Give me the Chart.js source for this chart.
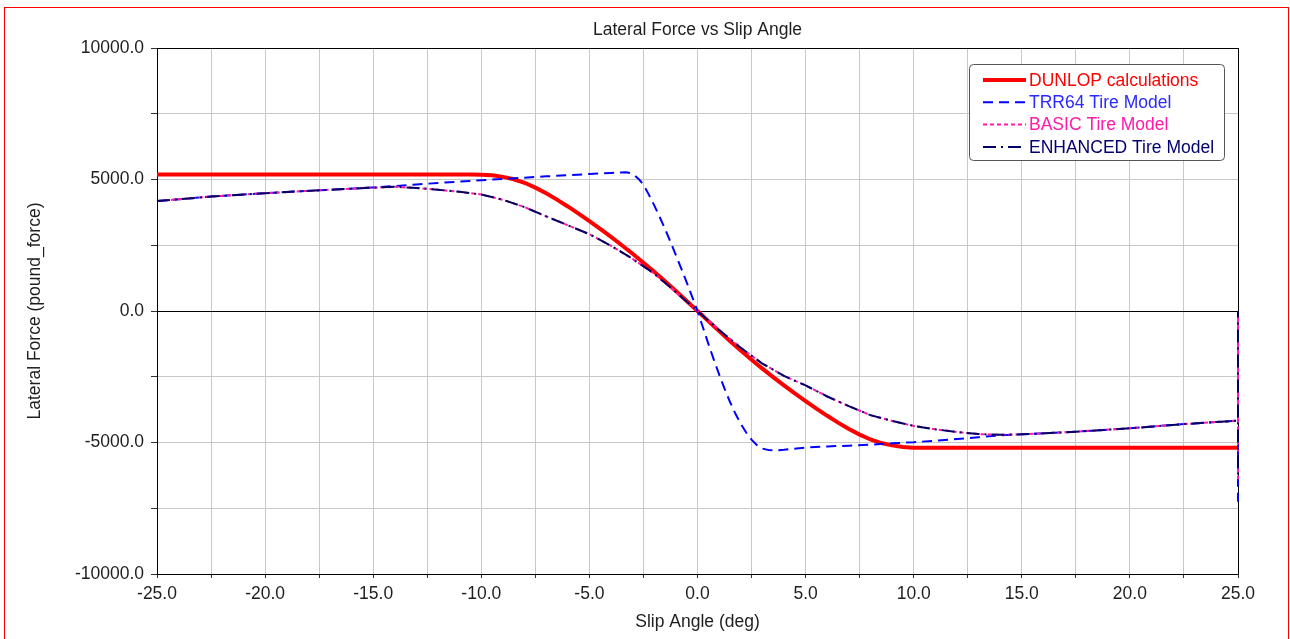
<!DOCTYPE html>
<html>
<head>
<meta charset="utf-8">
<title>Lateral Force vs Slip Angle</title>
<script src="https://cdn.jsdelivr.net/npm/chart.js@4.4.1/dist/chart.umd.min.js"></script>
<style>
    html, body { margin: 0; padding: 0; background: #fff; }
    #wrap { position: relative; width: 1290px; height: 639px; overflow: hidden; background: #fff; }
    #frame { position: absolute; left: 4px; top: 7px; width: 1283px; height: 700px; border: 1px solid #ff0000; pointer-events: none; }
</style>
</head>
<body>
<div id="wrap">
    <canvas id="lateralChart"></canvas>
    <div id="frame"></div>
</div>
<script>
// Slip angle (deg) / lateral force (pound_force)
var dunlopAngle = [-25, -10.5, -10, -9.5, -9, -8.5, -8, -7.5, -7, -6.5, -6, -5.5, -5, -4.5, -4, -3.5, -3, -2.5, -2, -1.5, -1, -0.5,
    0, 0.5, 1, 1.5, 2, 2.5, 3, 3.5, 4, 4.5, 5, 5.5, 6, 6.5, 7, 7.5, 8, 8.5, 9, 9.5, 10, 10.5, 25];
var dunlopForce = [5190, 5190, 5185, 5160, 5100, 5010, 4875, 4690, 4475, 4235, 3975, 3700, 3415, 3120, 2815, 2500, 2175, 1835, 1490, 1130, 760, 380,
    0, -385, -765, -1140, -1500, -1850, -2190, -2515, -2830, -3135, -3425, -3710, -3985, -4245, -4485, -4700, -4885, -5020, -5110, -5170, -5195, -5200, -5200];

var trrAngle = [-25, -22.5, -20, -17.5, -15, -14, -13, -12, -11, -10, -9, -8, -7, -6, -5, -4, -3.6, -3.3, -3.1, -2.9, -2.7, -2.5, -2.25, -2,
    -1.75, -1.5, -1.25, -1, -0.75, -0.5, -0.25, 0, 0.25, 0.5, 0.75, 1, 1.25, 1.5, 1.75, 2, 2.25, 2.5, 2.75, 3, 3.3, 3.6, 4,
    5, 6, 7, 8, 9, 10, 11, 12, 13, 14, 15, 17.5, 20, 22.5, 25, 25, 25];
var trrForce = [4180, 4350, 4480, 4590, 4700, 4750, 4810, 4870, 4920, 4970, 5020, 5070, 5120, 5160, 5210, 5250, 5270, 5275, 5240, 5150, 5000, 4800, 4425, 4015,
    3575, 3115, 2625, 2125, 1615, 1090, 550, 0, -620, -1240, -1840, -2410, -2950, -3450, -3900, -4290, -4620, -4890, -5100, -5230, -5290, -5300, -5275,
    -5190, -5150, -5120, -5080, -5030, -4990, -4930, -4870, -4800, -4730, -4690, -4590, -4460, -4300, -4170, 0, -7250];

var basicAngle = [-25, -22.5, -20, -17.5, -15, -14, -13, -12, -11, -10, -9, -8, -7, -6, -5, -4, -3, -2, -1,
    0, 1, 2, 3, 4, 5, 6, 7, 8, 9, 10, 11, 12, 13, 14, 15, 17.5, 20, 22.5, 25, 25, 25];
var basicForce = [4180, 4350, 4480, 4590, 4690, 4720, 4680, 4610, 4530, 4430, 4230, 3950, 3600, 3260, 2920, 2480, 1980, 1420, 720,
    0, -720, -1400, -2000, -2470, -2830, -3250, -3620, -3960, -4180, -4370, -4500, -4600, -4680, -4710, -4690, -4590, -4460, -4300, -4170, 0, -6400];

var enhancedAngle = [-25, -22.5, -20, -17.5, -15, -14, -13, -12, -11, -10, -9, -8, -7, -6, -5, -4, -3, -2, -1,
    0, 1, 2, 3, 4, 5, 6, 7, 8, 9, 10, 11, 12, 13, 14, 15, 17.5, 20, 22.5, 25, 25, 25];
var enhancedForce = [4180, 4350, 4480, 4590, 4690, 4720, 4680, 4610, 4530, 4430, 4230, 3950, 3600, 3260, 2920, 2480, 1980, 1420, 720,
    0, -720, -1400, -2000, -2470, -2830, -3250, -3620, -3960, -4180, -4370, -4500, -4600, -4680, -4710, -4690, -4590, -4460, -4300, -4170, 0, -6400];

var seriesNames = ['DUNLOP calculations', 'TRR64 Tire Model', 'BASIC Tire Model', 'ENHANCED Tire Model'];
var xTickLabels = ['-25.0', '-20.0', '-15.0', '-10.0', '-5.0', '0.0', '5.0', '10.0', '15.0', '20.0', '25.0'];
var yTickLabels = ['-10000.0', '-5000.0', '0.0', '5000.0', '10000.0'];

var fontFamily = "'Liberation Sans', Arial, Helvetica, sans-serif";
var textColor = '#1e1e1e';
var gridColor = '#c8c8c8';

function toPoints(xs, ys) {
    var pts = [];
    for (var i = 0; i < xs.length; i++) {
        pts.push({ x: xs[i], y: ys[i] });
    }
    return pts;
}

function fmtLabel(list, value) {
    var s = value.toFixed(1);
    return list.indexOf(s) >= 0 ? s : '';
}

// plot frame (top / right edges)
var plotFrame = {
    id: 'plotFrame',
    beforeDatasetsDraw: function(chart) {
        var a = chart.chartArea, ctx = chart.ctx;
        ctx.save();
        ctx.strokeStyle = '#000';
        ctx.lineWidth = 1;
        ctx.strokeRect(Math.round(a.left) + 0.5, Math.round(a.top) + 0.5,
            Math.round(a.right - a.left), Math.round(a.bottom - a.top));
        ctx.restore();
    }
};

// boxed legend in upper right, text coloured like the series
var boxLegend = {
    id: 'boxLegend',
    afterDraw: function(chart) {
        var ctx = chart.ctx;
        var left = 969.5, top = 64.5, w = 255, h = 96, r = 4;
        ctx.save();
        ctx.beginPath();
        ctx.roundRect(left, top, w, h, r);
        ctx.fillStyle = '#fff';
        ctx.fill();
        ctx.strokeStyle = '#555';
        ctx.lineWidth = 1;
        ctx.stroke();

        ctx.font = '17.5px ' + fontFamily;
        ctx.textBaseline = 'middle';
        chart.data.datasets.forEach(function(ds, i) {
            var y = 80 + i * 22.3;
            ctx.beginPath();
            ctx.setLineDash(ds.borderDash || []);
            ctx.strokeStyle = ds.borderColor;
            ctx.lineWidth = ds.borderWidth;
            ctx.moveTo(983, y);
            ctx.lineTo(1026, y);
            ctx.stroke();
            ctx.setLineDash([]);
            ctx.fillStyle = ds.textColor;
            ctx.fillText(ds.label, 1029, y + 1);
        });
        ctx.restore();
    }
};

var ctx = document.getElementById('lateralChart').getContext('2d');
new Chart(ctx, {
    type: 'scatter',
    data: {
        datasets: [{
            label: seriesNames[0],
            data: toPoints(dunlopAngle, dunlopForce),
            borderColor: '#ff0000',
            textColor: '#ff0000',
            borderWidth: 4,
            clip: 6,
            order: 4
        }, {
            label: seriesNames[1],
            data: toPoints(trrAngle, trrForce),
            borderColor: '#0000ff',
            textColor: '#2a2aff',
            borderWidth: 2,
            borderDash: [10, 6],
            clip: 6,
            order: 3
        }, {
            label: seriesNames[2],
            data: toPoints(basicAngle, basicForce),
            borderColor: '#ff1aa8',
            textColor: '#ff1aa8',
            borderWidth: 2,
            borderDash: [4, 3],
            clip: 6,
            order: 2
        }, {
            label: seriesNames[3],
            data: toPoints(enhancedAngle, enhancedForce),
            borderColor: '#000066',
            textColor: '#00006e',
            borderWidth: 2,
            borderDash: [13, 5, 2, 5],
            clip: 6,
            order: 1
        }]
    },
    options: {
        responsive: true,
        maintainAspectRatio: false,
        animation: false,
        showLine: true,
        elements: {
            point: { radius: 0, hoverRadius: 0 },
            line: { tension: 0, fill: false }
        },
        layout: { padding: { left: 0, right: 52, top: 0, bottom: 0 } },
        plugins: {
            legend: { display: false },
            tooltip: { enabled: false },
            title: {
                display: true,
                text: 'Lateral Force vs Slip Angle',
                fullSize: false,
                color: textColor,
                font: { family: fontFamily, size: 17.5, weight: 'normal' },
                padding: { top: 19.5, bottom: 7.5 }
            }
        },
        scales: {
            x: {
                type: 'linear',
                min: -25,
                max: 25,
                afterFit: function(s) { s.height = 65; },
                grid: { color: gridColor, tickColor: '#333', tickLength: 4 },
                border: { display: true, color: '#000' },
                ticks: {
                    stepSize: 2.5,
                    autoSkip: false,
                    maxRotation: 0,
                    padding: 6,
                    color: textColor,
                    font: { family: fontFamily, size: 17.5 },
                    callback: function(v) { return fmtLabel(xTickLabels, v); }
                },
                title: {
                    display: true,
                    text: 'Slip Angle (deg)',
                    color: textColor,
                    font: { family: fontFamily, size: 17.5 },
                    padding: { top: 0, bottom: 6.5 }
                }
            },
            y: {
                min: -10000,
                max: 10000,
                afterFit: function(s) { s.width = 157; },
                grid: {
                    color: function(c) { return c.tick && c.tick.value === 0 ? '#000' : gridColor; },
                    tickColor: '#333',
                    tickLength: 6
                },
                border: { display: true, color: '#000' },
                ticks: {
                    stepSize: 2500,
                    autoSkip: false,
                    padding: 7,
                    color: textColor,
                    font: { family: fontFamily, size: 17.5 },
                    callback: function(v) { return fmtLabel(yTickLabels, v); }
                },
                title: {
                    display: true,
                    text: 'Lateral Force (pound_force)',
                    color: textColor,
                    font: { family: fontFamily, size: 17.5 },
                    padding: { top: 25, bottom: 0 }
                }
            }
        }
    },
    plugins: [plotFrame, boxLegend]
});
</script>
</body>
</html>
